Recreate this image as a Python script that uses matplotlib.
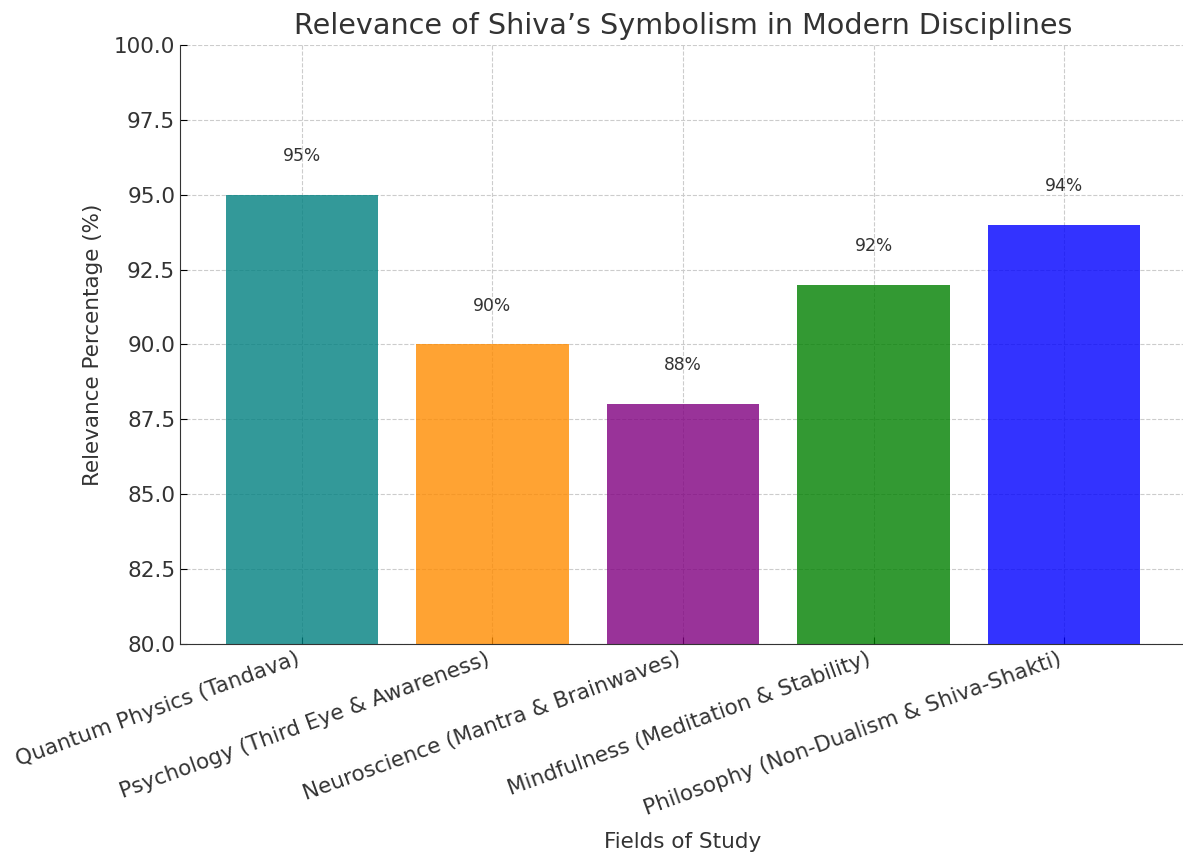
import matplotlib
matplotlib.use("Agg")
import matplotlib.pyplot as plt

# data
fields = ["Quantum Physics (Tandava)",
          "Psychology (Third Eye & Awareness)",
          "Neuroscience (Mantra & Brainwaves)",
          "Mindfulness (Meditation & Stability)",
          "Philosophy (Non-Dualism & Shiva-Shakti)"]
relevance = [95, 90, 88, 92, 94]
bar_colors = ["#008080", "#ff8c00", "#800080", "#008000", "#0000ff"]

txt = "#333333"

fig = plt.figure(figsize=(11.83, 8.52), dpi=100)
# the right edge of the axes runs just past the picture, as in the original
ax = fig.add_axes([180/1183, (852-644)/852, 1006/1183, 599/852])

bars = ax.bar(range(len(fields)), relevance, color=bar_colors, alpha=0.8, width=0.8)
ax.set_axisbelow(True)
ax.grid(True, linestyle="--", color="#cccccc", linewidth=0.8)

for b, v in zip(bars, relevance):
    ax.text(b.get_x() + b.get_width()/2, v + 1, f"{v}%", ha="center", va="bottom",
            fontsize=12.3, color=txt)

ax.set_ylim(80, 100)
ax.set_yticks([80, 82.5, 85, 87.5, 90, 92.5, 95, 97.5, 100])
ax.set_yticklabels([f"{t:.1f}" for t in ax.get_yticks()])
ax.set_xticks(range(len(fields)))
ax.set_xticklabels(fields, rotation=20, ha="right")

ax.tick_params(axis="y", direction="in", labelsize=15.5, labelcolor=txt, length=5)
ax.tick_params(axis="x", direction="in", labelsize=15.5, labelcolor=txt, length=5)
for s in ["top", "right"]:
    ax.spines[s].set_visible(False)
for s in ["left", "bottom"]:
    ax.spines[s].set_color(txt)

ax.set_title("Relevance of Shiva\u2019s Symbolism in Modern Disciplines", fontsize=20.6,
             color=txt, pad=8)
ax.set_xlabel("Fields of Study", fontsize=15.5, color=txt, labelpad=9)
ax.set_ylabel("Relevance Percentage (%)", fontsize=15.5, color=txt, labelpad=8)

fig.savefig("out.png", dpi=100)
